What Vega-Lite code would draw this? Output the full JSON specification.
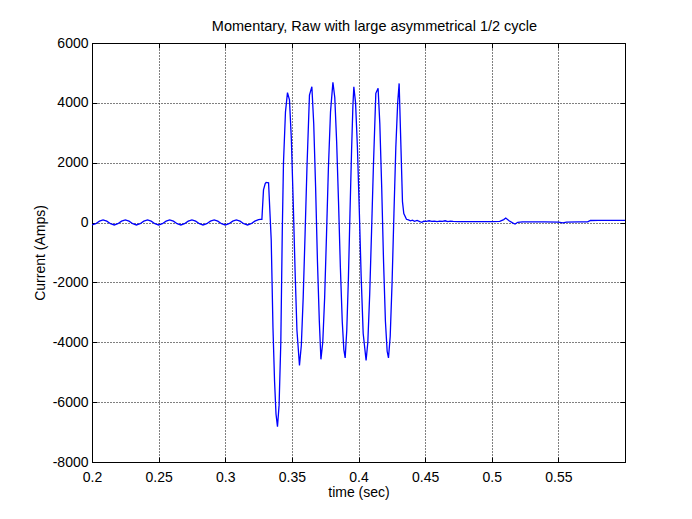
{
  "$schema": "https://vega.github.io/schema/vega-lite/v6.json",
  "width": 533,
  "height": 419,
  "autosize": "none",
  "padding": {"left": 92, "top": 43, "right": 67, "bottom": 57},
  "background": "white",
  "title": {"text": "Momentary, Raw with large asymmetrical 1/2 cycle", "font": "Liberation Sans", "fontSize": 14.5, "fontWeight": "normal", "color": "black", "offset": 2, "dx": 16},
  "data": {"values": [
    {"t": 0.2000, "I": -80}, {"t": 0.2028, "I": -38}, {"t": 0.2056, "I": 47}, {"t": 0.2083, "I": 90}, {"t": 0.2111, "I": 47}, {"t": 0.2139, "I": -38},
    {"t": 0.2167, "I": -80}, {"t": 0.2194, "I": -38}, {"t": 0.2222, "I": 47}, {"t": 0.2250, "I": 90}, {"t": 0.2278, "I": 47}, {"t": 0.2306, "I": -38},
    {"t": 0.2333, "I": -80}, {"t": 0.2361, "I": -38}, {"t": 0.2389, "I": 47}, {"t": 0.2417, "I": 90}, {"t": 0.2444, "I": 47}, {"t": 0.2472, "I": -38},
    {"t": 0.2500, "I": -80}, {"t": 0.2528, "I": -38}, {"t": 0.2556, "I": 47}, {"t": 0.2583, "I": 90}, {"t": 0.2611, "I": 47}, {"t": 0.2639, "I": -38},
    {"t": 0.2667, "I": -80}, {"t": 0.2694, "I": -38}, {"t": 0.2722, "I": 47}, {"t": 0.2750, "I": 90}, {"t": 0.2778, "I": 47}, {"t": 0.2806, "I": -38},
    {"t": 0.2833, "I": -80}, {"t": 0.2861, "I": -38}, {"t": 0.2889, "I": 47}, {"t": 0.2917, "I": 90}, {"t": 0.2944, "I": 47}, {"t": 0.2972, "I": -38},
    {"t": 0.3000, "I": -80}, {"t": 0.3028, "I": -38}, {"t": 0.3056, "I": 47}, {"t": 0.3083, "I": 90}, {"t": 0.3111, "I": 47}, {"t": 0.3139, "I": -38},
    {"t": 0.3167, "I": -80}, {"t": 0.3194, "I": -38}, {"t": 0.3222, "I": 47}, {"t": 0.3250, "I": 100}, {"t": 0.3262, "I": 110}, {"t": 0.3275, "I": 110},
    {"t": 0.3287, "I": 1090}, {"t": 0.3300, "I": 1300}, {"t": 0.3307, "I": 1340}, {"t": 0.3325, "I": 1330}, {"t": 0.3345, "I": -580},
    {"t": 0.3358, "I": -3500}, {"t": 0.3370, "I": -5300}, {"t": 0.3381, "I": -6400}, {"t": 0.3392, "I": -6820}, {"t": 0.3404, "I": -6100},
    {"t": 0.3417, "I": -4000}, {"t": 0.3428, "I": -300}, {"t": 0.3437, "I": 2000}, {"t": 0.3452, "I": 3700}, {"t": 0.3467, "I": 4340},
    {"t": 0.3482, "I": 4100}, {"t": 0.3496, "I": 2800}, {"t": 0.3510, "I": 700}, {"t": 0.3524, "I": -1600}, {"t": 0.3538, "I": -3600},
    {"t": 0.3557, "I": -4770}, {"t": 0.3571, "I": -4100}, {"t": 0.3585, "I": -2500}, {"t": 0.3599, "I": -400}, {"t": 0.3613, "I": 1800},
    {"t": 0.3632, "I": 4260}, {"t": 0.3650, "I": 4540}, {"t": 0.3664, "I": 3300}, {"t": 0.3678, "I": 1200}, {"t": 0.3692, "I": -1300},
    {"t": 0.3706, "I": -3300}, {"t": 0.3718, "I": -4570}, {"t": 0.3732, "I": -3990}, {"t": 0.3746, "I": -2500}, {"t": 0.3760, "I": -400},
    {"t": 0.3774, "I": 1800}, {"t": 0.3790, "I": 3700}, {"t": 0.3808, "I": 4690}, {"t": 0.3822, "I": 4180}, {"t": 0.3836, "I": 2700},
    {"t": 0.3850, "I": 700}, {"t": 0.3864, "I": -1500}, {"t": 0.3878, "I": -3300}, {"t": 0.3890, "I": -4250}, {"t": 0.3900, "I": -4520},
    {"t": 0.3912, "I": -3600}, {"t": 0.3924, "I": -1900}, {"t": 0.3936, "I": 300}, {"t": 0.3948, "I": 2400}, {"t": 0.3958, "I": 3900},
    {"t": 0.3965, "I": 4540}, {"t": 0.3978, "I": 4000}, {"t": 0.3992, "I": 2500}, {"t": 0.4006, "I": 400}, {"t": 0.4020, "I": -1800},
    {"t": 0.4035, "I": -3700}, {"t": 0.4057, "I": -4610}, {"t": 0.4070, "I": -4000}, {"t": 0.4084, "I": -2400}, {"t": 0.4098, "I": -300},
    {"t": 0.4112, "I": 1900}, {"t": 0.4130, "I": 4320}, {"t": 0.4147, "I": 4490}, {"t": 0.4160, "I": 3300}, {"t": 0.4174, "I": 1200},
    {"t": 0.4188, "I": -1300}, {"t": 0.4202, "I": -3300}, {"t": 0.4215, "I": -4300}, {"t": 0.4225, "I": -4520}, {"t": 0.4238, "I": -3800},
    {"t": 0.4252, "I": -2000}, {"t": 0.4266, "I": 300}, {"t": 0.4280, "I": 2500}, {"t": 0.4294, "I": 4000}, {"t": 0.4305, "I": 4650},
    {"t": 0.4318, "I": 2600}, {"t": 0.4330, "I": 700}, {"t": 0.4340, "I": 300}, {"t": 0.4360, "I": 110}, {"t": 0.4375, "I": 90},
    {"t": 0.4390, "I": 60}, {"t": 0.4405, "I": 80}, {"t": 0.4420, "I": 40}, {"t": 0.4440, "I": 70}, {"t": 0.4460, "I": 30},
    {"t": 0.4475, "I": 10}, {"t": 0.4490, "I": 50}, {"t": 0.4510, "I": 40}, {"t": 0.4530, "I": 60}, {"t": 0.4550, "I": 40},
    {"t": 0.4570, "I": 50}, {"t": 0.4590, "I": 30}, {"t": 0.4610, "I": 50}, {"t": 0.4630, "I": 40}, {"t": 0.4650, "I": 60},
    {"t": 0.4670, "I": 30}, {"t": 0.4690, "I": 50}, {"t": 0.4710, "I": 40}, {"t": 0.4750, "I": 30}, {"t": 0.4800, "I": 30},
    {"t": 0.4850, "I": 30}, {"t": 0.4900, "I": 30}, {"t": 0.4950, "I": 30}, {"t": 0.5000, "I": 30}, {"t": 0.5060, "I": 40},
    {"t": 0.5090, "I": 100}, {"t": 0.5105, "I": 150}, {"t": 0.5130, "I": 60}, {"t": 0.5160, "I": -20}, {"t": 0.5175, "I": -50},
    {"t": 0.5195, "I": 10}, {"t": 0.5230, "I": 20}, {"t": 0.5300, "I": 20}, {"t": 0.5400, "I": 20}, {"t": 0.5500, "I": 15},
    {"t": 0.5535, "I": -10}, {"t": 0.5560, "I": 15}, {"t": 0.5650, "I": 20}, {"t": 0.5720, "I": 25}, {"t": 0.5740, "I": 70},
    {"t": 0.5800, "I": 75}, {"t": 0.5900, "I": 75}, {"t": 0.6000, "I": 75}
  ]},
  "layer": [
    {
      "mark": {"type": "line", "color": "#0000ff", "strokeWidth": 1.3, "clip": true},
      "encoding": {
        "x": {"field": "t", "type": "quantitative", "scale": {"domain": [0.2, 0.6], "nice": false, "zero": false},
          "axis": {"values": [0.2, 0.25, 0.3, 0.35, 0.4, 0.45, 0.5, 0.55], "labelExpr": "toString(datum.value)", "labelFlush": false, "title": "time (sec)", "tickSize": -5, "labelPadding": 13, "titlePadding": 1}},
        "y": {"field": "I", "type": "quantitative", "scale": {"domain": [-8000, 6000], "nice": false, "zero": false},
          "axis": {"values": [-8000, -6000, -4000, -2000, 0, 2000, 4000, 6000], "labelExpr": "toString(datum.value)", "labelFlush": false, "title": "Current (Amps)", "tickSize": -5, "labelPadding": 9, "titlePadding": 5}}
      }
    },
    {
      "mark": {"type": "line", "opacity": 0},
      "encoding": {
        "x": {"field": "t", "type": "quantitative", "axis": {"orient": "top", "values": [0.2, 0.25, 0.3, 0.35, 0.4, 0.45, 0.5, 0.55], "labels": false, "grid": false, "title": null, "tickSize": -5}},
        "y": {"field": "I", "type": "quantitative", "axis": {"orient": "right", "values": [-8000, -6000, -4000, -2000, 0, 2000, 4000, 6000], "labels": false, "grid": false, "title": null, "tickSize": -5}}
      }
    }
  ],
  "resolve": {"axis": {"x": "independent", "y": "independent"}},
  "config": {
    "view": {"stroke": "black", "strokeWidth": 1},
    "font": "Liberation Sans",
    "axis": {
      "domainColor": "black", "domainWidth": 1, "tickColor": "black", "tickWidth": 1,
      "gridColor": "black", "gridDash": [1, 2], "gridOpacity": 1, "gridWidth": 1,
      "labelFont": "Liberation Sans", "labelFontSize": 14, "labelColor": "black",
      "titleFont": "Liberation Sans", "titleFontSize": 14, "titleFontWeight": "normal", "titleColor": "black"
    }
  }
}
